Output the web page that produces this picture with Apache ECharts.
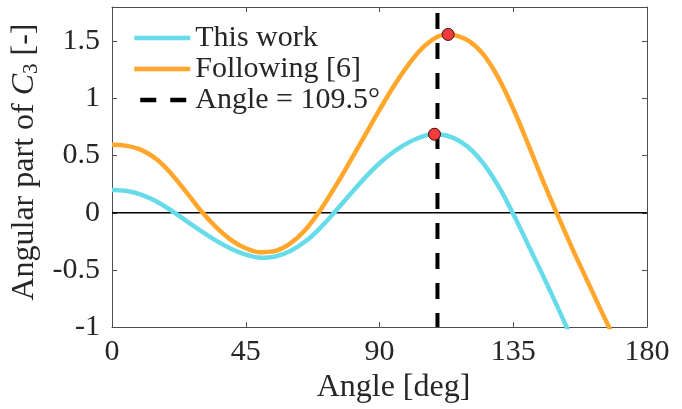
<!DOCTYPE html>
<html>
<head>
<meta charset="utf-8">
<script src="https://cdn.jsdelivr.net/npm/echarts@6/dist/echarts.min.js"></script>
<style>
html,body{margin:0;padding:0;background:#fff;}
#c{width:682px;height:409px;}
</style>
</head>
<body>
<div id="c"></div>
<script>
// ---- data ----
var xTicks = [0, 45, 90, 135, 180];
var yTicks = [-1, -0.5, 0, 0.5, 1, 1.5];

var anglesThisWork = [0,5,10,15,20,25,30,35,40,45,50,55,60,65,70,75,80,85,90,95,100,105,108.5,110,115,120,125,130,135,140,145,150,155];
var thisWork = [0.20,0.19,0.157,0.099,0.019,-0.071,-0.161,-0.244,-0.314,-0.366,-0.393,-0.382,-0.334,-0.252,-0.134,0.008,0.158,0.303,0.433,0.538,0.618,0.673,0.687,0.686,0.653,0.571,0.431,0.233,-0.01,-0.28,-0.55,-0.83,-1.12];

var anglesFollowing = [0,5,10,15,20,25,30,35,40,45,50,55,60,65,70,75,80,85,90,95,100,105,110,113,115,120,125,130,135,140,145,150,155,160,165,170];
var following = [0.595,0.585,0.548,0.468,0.34,0.18,0.015,-0.125,-0.237,-0.31,-0.345,-0.333,-0.268,-0.15,0.02,0.225,0.445,0.672,0.90,1.115,1.305,1.455,1.547,1.56,1.555,1.504,1.384,1.18,0.91,0.60,0.28,-0.025,-0.32,-0.60,-0.88,-1.15];

var refAngle = 109.5;
var markerAngles = [108.5, 113.1];
var markerValues = [0.687, 1.56];

var names = ['This work', 'Following [6]', 'Angle = 109.5°'];

// ---- build ----
function pairs(xs, ys){ return xs.map(function(x,i){ return [x, ys[i]]; }); }
var FONT = '"Liberation Serif", "DejaVu Serif", serif';
var TXT = '#262626';
var AX = '#4d4d4d';
var yMin = yTicks[0], yMax = 1.8;

var chart = echarts.init(document.getElementById('c'), null, {renderer:'canvas'});
var yFmt = function(v){ return Math.abs(v*2 - Math.round(v*2)) < 1e-9 ? String(v) : ''; };

chart.setOption({
  animation: false,
  backgroundColor: '#fff',
  grid: {left: 112, right: 35, top: 7, bottom: 77, containLabel: false},
  legend: {
    data: names, left: 132, top: 23, orient: 'vertical', padding: 0,
    itemWidth: 56, itemHeight: 14, itemGap: 1,
    itemStyle: {opacity: 0},
    lineStyle: {width: 4.5},
    textStyle: {fontFamily: FONT, fontSize: 30, color: TXT, lineHeight: 28}
  },
  xAxis: [{
    type: 'value', min: xTicks[0], max: xTicks[xTicks.length-1], interval: 45,
    name: 'Angle [deg]', nameLocation: 'middle', nameGap: 43,
    nameTextStyle: {fontFamily: FONT, fontSize: 32, color: TXT, padding: [0,0,0,28]},
    axisLine: {show: true, onZero: false, lineStyle: {color: AX, width: 1}},
    axisTick: {show: true, inside: true, length: 5, lineStyle: {color: AX}},
    axisLabel: {fontFamily: FONT, fontSize: 30, color: TXT, margin: 10},
    splitLine: {show: false}
  },{
    type: 'value', position: 'top', min: xTicks[0], max: xTicks[xTicks.length-1], interval: 45,
    axisLine: {show: true, onZero: false, lineStyle: {color: AX, width: 1}},
    axisTick: {show: true, inside: true, length: 5, lineStyle: {color: AX}},
    axisLabel: {show: false}, splitLine: {show: false}
  }],
  yAxis: [{
    type: 'value', min: yMin, max: yMax, interval: 0.5,
    name: '{a|Angular part of }{c|C}{s|3}{a| [-]}', nameLocation: 'middle', nameGap: 66,
    nameTextStyle: {
      fontFamily: FONT, fontSize: 32, color: TXT, padding: [0,0,0,10],
      rich: {
        a: {fontFamily: FONT, fontSize: 32, color: TXT, lineHeight: 34},
        c: {fontFamily: FONT, fontSize: 32, color: TXT, fontStyle: 'italic', lineHeight: 34},
        s: {fontFamily: FONT, fontSize: 21, color: TXT, lineHeight: 16, verticalAlign: 'bottom'}
      }
    },
    axisLine: {show: true, onZero: false, lineStyle: {color: AX, width: 1}},
    axisTick: {show: true, inside: true, length: 5, lineStyle: {color: AX}},
    axisLabel: {fontFamily: FONT, fontSize: 30, color: TXT, margin: 12, formatter: yFmt, showMaxLabel: false},
    splitLine: {show: false}
  },{
    type: 'value', position: 'right', min: yMin, max: yMax, interval: 0.5,
    axisLine: {show: true, onZero: false, lineStyle: {color: AX, width: 1}},
    axisTick: {show: true, inside: true, length: 5, lineStyle: {color: AX}},
    axisLabel: {show: false}, splitLine: {show: false}
  }],
  series: [
    {
      name: 'zero', type: 'line', silent: true, symbol: 'none', z: 1,
      data: [[xTicks[0], 0], [xTicks[xTicks.length-1], 0]],
      lineStyle: {color: '#000', width: 1.5}
    },
    {
      name: names[0], type: 'line', symbol: 'none', smooth: 0.4, z: 2,
      data: pairs(anglesThisWork, thisWork),
      itemStyle: {color: '#66dcea'},
      lineStyle: {color: '#66dcea', width: 4.5}
    },
    {
      name: names[1], type: 'line', symbol: 'none', smooth: 0.4, z: 3,
      data: pairs(anglesFollowing, following),
      itemStyle: {color: '#ffa62b'},
      lineStyle: {color: '#ffa62b', width: 4.5}
    },
    {
      name: names[2], type: 'line', symbol: 'none', z: 4,
      data: [[refAngle, yMax], [refAngle, yMin]],
      itemStyle: {color: '#000'},
      lineStyle: {color: '#000', width: 4, type: [16, 14], dashOffset: 24}
    },
    {
      name: 'markers', type: 'scatter', symbol: 'circle', symbolSize: 12, z: 5, silent: true,
      data: pairs(markerAngles, markerValues),
      itemStyle: {color: '#f23b3b', borderColor: '#3a0a0a', borderWidth: 1, opacity: 1}
    }
  ]
});
</script>
</body>
</html>
